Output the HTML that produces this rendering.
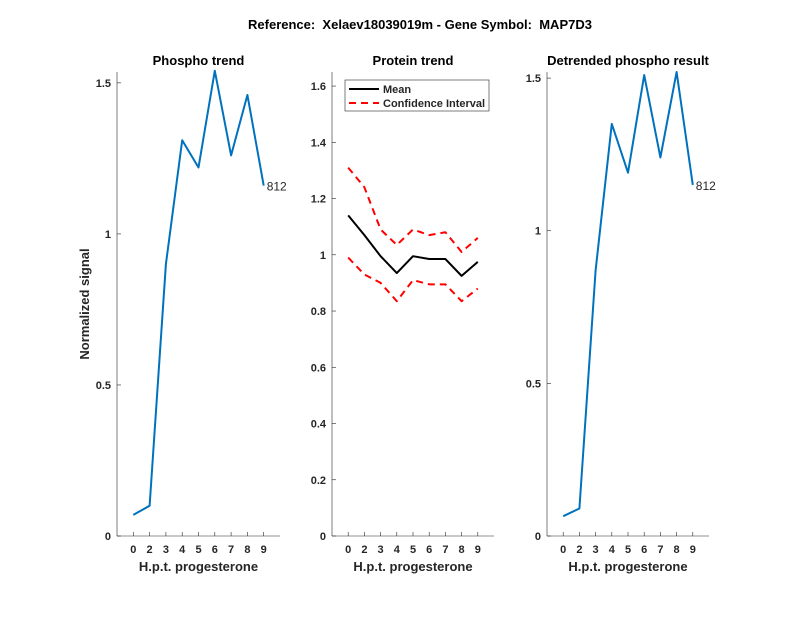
<!DOCTYPE html>
<html><head><meta charset="utf-8"><style>
body{margin:0;background:#fff}
svg text{font-family:"Liberation Sans",Arial,sans-serif;fill:#262626;white-space:pre}
</style></head><body>
<svg id="fig" width="800" height="618" xmlns="http://www.w3.org/2000/svg">
<rect width="800" height="618" fill="#fff"/>
<text x="420" y="29" font-size="13" font-weight="bold" text-anchor="middle" fill="#000" style="fill:#000">Reference:  Xelaev18039019m - Gene Symbol:  MAP7D3</text>
</svg>
<script>
const categories=['0','2','3','4','5','6','7','8','9'];
const phospho=[0.07,0.10,0.90,1.31,1.22,1.54,1.26,1.46,1.16];
const detrended=[0.065,0.09,0.87,1.35,1.19,1.51,1.24,1.52,1.15];
const proteinMean=[1.14,1.07,0.995,0.935,0.995,0.985,0.985,0.925,0.975];
const proteinUpper=[1.31,1.24,1.09,1.035,1.09,1.07,1.08,1.01,1.06];
const proteinLower=[0.99,0.93,0.90,0.835,0.91,0.895,0.895,0.835,0.88];
const ticks1=[0,0.5,1,1.5];
const ticks2=[0,0.2,0.4,0.6,0.8,1,1.2,1.4,1.6];
const ticks3=[0,0.5,1,1.5];
const svg=document.getElementById('fig');
const NS='http://www.w3.org/2000/svg';
function el(t,a,p){const e=document.createElementNS(NS,t);for(const k in a)e.setAttribute(k,a[k]);(p||svg).appendChild(e);return e;}
function panel(name,x0,x1,yTop,yBot,ymax,ticks,title,tickFmt){
  const g=el('g',{});
  
  
  const xs=i=>x0+(x1-x0)*(i+1)/10;
  const ys=v=>yBot-(yBot-yTop)*v/ymax;
  el('line',{x1:x0,y1:yTop,x2:x0,y2:yBot,stroke:'#262626','stroke-width':0.6},g);
  el('line',{x1:x0,y1:yBot,x2:x1,y2:yBot,stroke:'#262626','stroke-width':0.6},g);
  ticks.forEach(t=>{
    el('line',{x1:x0,y1:ys(t),x2:x0+4,y2:ys(t),stroke:'#262626','stroke-width':0.6},g);
    const tx=el('text',{x:x0-6,y:ys(t)+4,'font-size':11,'font-weight':'bold','text-anchor':'end'},g);
    tx.textContent=tickFmt(t);
    
    
  });
  categories.forEach((c,i)=>{
    el('line',{x1:xs(i),y1:yBot,x2:xs(i),y2:yBot-4,stroke:'#262626','stroke-width':0.6},g);
    const tx=el('text',{x:xs(i),y:yBot+17,'font-size':11,'font-weight':'bold','text-anchor':'middle'},g);
    tx.textContent=c;
    
    
  });
  const xl=el('text',{x:(x0+x1)/2,y:yBot+35,'font-size':13,'font-weight':'bold','text-anchor':'middle'},g);
  xl.textContent='H.p.t. progesterone';
  
  
  const tt=el('text',{x:(x0+x1)/2,y:yTop-7,'font-size':13,'font-weight':'bold','text-anchor':'middle',style:'fill:#000'},g);
  tt.textContent=title;
  
  
  return {g,xs,ys};
}
function line(p,vals,color,w,dash,name){
  const pl=el('polyline',{points:vals.map((v,i)=>p.xs(i)+','+p.ys(v)).join(' '),fill:'none',stroke:color,'stroke-width':w,'stroke-dasharray':dash||'none','stroke-linejoin':'round'},p.g);
  
  
}
const f1=t=>String(t);
const f2=t=>t===0?'0':(t===1?'1':t.toFixed(1));
const p1=panel('phospho-trend-panel',117,280,72,536,1.536,ticks1,'Phospho trend',f1);
line(p1,phospho,'#0072BD',2,null,'phospho-line');
let lb=el('text',{x:p1.xs(8)+3,y:p1.ys(phospho[8])+5,'font-size':12},p1.g);lb.textContent='812';


const yt=el('text',{x:0,y:0,'font-size':13,'font-weight':'bold','text-anchor':'middle',transform:'translate(89,304) rotate(-90)'});
yt.textContent='Normalized signal';



const p2=panel('protein-trend-panel',332,494,72,536,1.65,ticks2,'Protein trend',f2);
line(p2,proteinUpper,'#FF0000',2,'7,5','ci-upper-line');
line(p2,proteinLower,'#FF0000',2,'7,5','ci-lower-line');
line(p2,proteinMean,'#000',2,null,'mean-line');
const lg=el('g',{});


el('rect',{x:345,y:80,width:144,height:31,fill:'#fff',stroke:'#262626','stroke-width':0.6},lg);
el('line',{x1:349,y1:89,x2:379,y2:89,stroke:'#000','stroke-width':2},lg);
el('line',{x1:349,y1:103,x2:379,y2:103,stroke:'#FF0000','stroke-width':2,'stroke-dasharray':'7,5'},lg);
let t=el('text',{x:383,y:93,'font-size':11,'font-weight':'bold'},lg);t.textContent='Mean';


t=el('text',{x:383,y:107,'font-size':11,'font-weight':'bold'},lg);t.textContent='Confidence Interval';



const p3=panel('detrended-panel',547,709,72,536,1.52,ticks3,'Detrended phospho result',f1);
line(p3,detrended,'#0072BD',2,null,'detrended-line');
lb=el('text',{x:p3.xs(8)+3,y:p3.ys(detrended[8])+5,'font-size':12},p3.g);lb.textContent='812';


</script>
</body></html>
